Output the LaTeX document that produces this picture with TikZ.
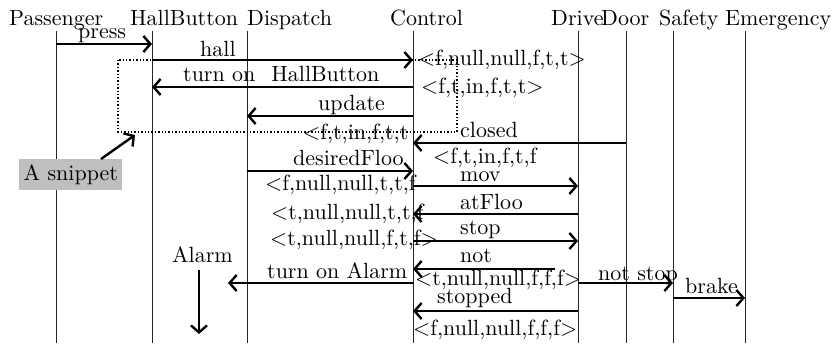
\documentclass[tikz,border=0pt]{standalone}
\usepackage{fontspec}
\newfontfamily\lmten{lmroman10-regular.otf}
\usetikzlibrary{arrows.meta}
\begin{document}
\begin{tikzpicture}[x=1pt,y=-1pt,
  txt/.style={font=\lmten\fontsize{22}{26}\selectfont, inner sep=0pt, anchor=base west},
  life/.style={line width=0.9pt, black!85},
  msg/.style={line width=2.4pt, -{Straight Barb[length=7pt,width=16pt]}},
  frame/.style={dotted, line width=1.4pt},
  note/.style={txt, fill=black!25, inner xsep=4.5pt, inner ysep=0pt, anchor=north west, minimum height=31pt}
]
\useasboundingbox (0,0) rectangle (835,343);
% lifeline heads
\node[txt] (hP) at (9,25) {Passenger};
\node[txt] (hH) at (130,25) {HallButton};
\node[txt] (hD) at (247,25) {Dispatch};
\node[txt] (hC) at (390,25) {Control};
\node[txt] (hDr) at (551,25) {Drive};
\node[txt] (hDo) at (601,25) {Door};
\node[txt] (hS) at (659,25) {Safety};
\node[txt] (hE) at (725,25) {Emergency};
% lifelines
\coordinate (lP) at (56,31);
\coordinate (lH) at (152,31);
\coordinate (lD) at (247,31);
\coordinate (lC) at (413,31);
\coordinate (lDr) at (578,31);
\coordinate (lDo) at (626,31);
\coordinate (lS) at (673,31);
\coordinate (lE) at (745,31);
\foreach \l in {lP,lH,lD,lC,lDr,lDo,lS,lE}{\draw[life] (\l) -- (\l |- 0,343);}
% dotted snippet frame
\coordinate (f1) at (118,60);
\coordinate (f2) at (457,132);
\draw[frame] (f1) rectangle (f2);
% messages
\draw[msg] (lP |- 0,44) -- (lH |- 0,44);
\node[txt] (m1) at (78,38) {press};
\draw[msg] (lH |- 0,60) -- (lC |- 0,60);
\node[txt] (m2) at (200,56) {hall};
\node[txt] (s1) at (418,65) {<f,null,null,f,t,t>};
\draw[msg] (lC |- 0,87) -- (lH |- 0,87);
\node[txt] (m3) at (183,81) {turn on\hspace{16pt}HallButton};
\node[txt] (s2) at (421,93) {<f,t,in,f,t,t>};
\draw[msg] (lC |- 0,116) -- (lD |- 0,116);
\node[txt] (m4) at (318,110) {update};
\node[txt] (s3) at (303,139) {<f,t,in,f,t,t};
\draw[msg] (lDo |- 0,143) -- (lC |- 0,143);
\node[txt] (m5) at (460,137) {closed};
\node[txt] (s4) at (433,163) {<f,t,in,f,t,f};
% note
\node[note] (nt) at (19,159) {A snippet};
\coordinate (ntip) at (135,135);
\draw[msg] (nt.north -| 101,0) -- (ntip);
\draw[msg] (lD |- 0,171) -- (lC |- 0,171);
\node[txt] (m6) at (293,165) {desiredFloo};
\node[txt] (s5) at (265,190) {<f,null,null,t,t,f};
\draw[msg] (lC |- 0,186) -- (lDr |- 0,186);
\node[txt] (m7) at (460,181) {mov};
\draw[msg] (lDr |- 0,214) -- (lC |- 0,214);
\node[txt] (m8) at (460,209) {atFloo};
\node[txt] (s6) at (271,219) {<t,null,null,t,t,f};
\draw[msg] (lC |- 0,241) -- (lDr |- 0,241);
\node[txt] (m9) at (460,234) {stop};
\node[txt] (s7) at (270,245) {<t,null,null,f,t,f>};
\coordinate (nstart) at (555,269);
\draw[msg] (nstart) -- (lC |- nstart);
\node[txt] (m10) at (460,262) {not};
\coordinate (aend) at (228,283);
\draw[msg] (lC |- aend) -- (aend);
\node[txt] (m11) at (267,278) {turn on Alarm};
\node[txt] (al) at (172,262) {Alarm};
\coordinate (ad) at (199,334);
\draw[msg] (ad |- 0,270) -- (ad);
\node[txt] (s8) at (415,285) {<t,null,null,f,f,f>};
\draw[msg] (lDr |- 0,283) -- (lS |- 0,283);
\node[txt] (m12) at (598,280) {not stop};
\draw[msg] (lS |- 0,298) -- (lE |- 0,298);
\node[txt] (m13) at (685,293) {brake};
\draw[msg] (lDr |- 0,311) -- (lC |- 0,311);
\node[txt] (m14) at (437,303) {stopped};
\node[txt] (s9) at (413,335) {<f,null,null,f,f,f>};
\end{tikzpicture}
\end{document}
